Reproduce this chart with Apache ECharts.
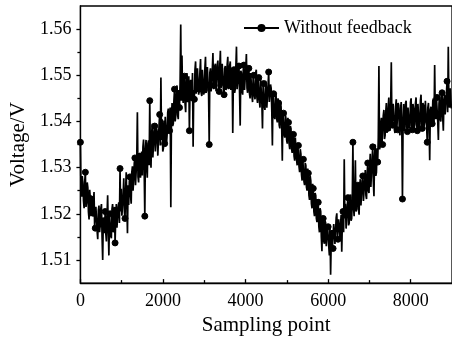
<!DOCTYPE html>
<html>
<head>
<meta charset="utf-8">
<script src="https://cdn.jsdelivr.net/npm/echarts@6/dist/echarts.min.js"></script>
<style>
html,body{margin:0;padding:0;background:#fff;}
#chart{width:452px;height:341px;}
</style>
</head>
<body>
<div id="chart"></div>
<script>
// sampling step between stored points
var sampleStep = 15;
var seriesName = 'Without feedback';
// voltage readings (V), one every 15 sampling points, from 0 to 8985
var voltage = [
1.5355,1.5248,1.5237,1.5282,1.5267,1.5228,1.5212,1.5270,1.5290,1.5215,1.5225,1.5268,1.5257,1.5204,1.5188,1.5252,1.5233,1.5195,1.5202,1.5238,
1.5194,1.5226,1.5247,1.5172,1.5169,1.5215,1.5212,1.5163,1.5145,1.5208,1.5218,1.5160,1.5178,1.5212,1.5221,1.5150,1.5100,1.5192,1.5187,1.5158,
1.5205,1.5158,1.5140,1.5196,1.5240,1.5165,1.5110,1.5198,1.5200,1.5152,1.5147,1.5210,1.5221,1.5160,1.5173,1.5215,1.5137,1.5190,1.5221,1.5170,
1.5167,1.5215,1.5225,1.5180,1.5298,1.5205,1.5254,1.5196,1.5192,1.5240,1.5277,1.5205,1.5190,1.5252,1.5290,1.5218,1.5158,1.5262,1.5219,1.5270,
1.5280,1.5240,1.5222,1.5290,1.5303,1.5250,1.5272,1.5310,1.5321,1.5262,1.5265,1.5318,1.5420,1.5280,1.5268,1.5330,1.5325,1.5278,1.5295,1.5335,
1.5283,1.5345,1.5361,1.5295,1.5195,1.5340,1.5360,1.5300,1.5278,1.5352,1.5359,1.5305,1.5445,1.5330,1.5300,1.5372,1.5395,1.5322,1.5318,1.5378,
1.5390,1.5335,1.5338,1.5385,1.5378,1.5326,1.5330,1.5392,1.5415,1.5348,1.5495,1.5360,1.5405,1.5335,1.5342,1.5402,1.5352,1.5410,1.5407,1.5350,
1.5372,1.5420,1.5428,1.5375,1.5380,1.5430,1.5214,1.5405,1.5440,1.5390,1.5395,1.5445,1.5470,1.5400,1.5412,1.5462,1.5478,1.5415,1.5405,1.5468,
1.5430,1.5485,1.5610,1.5445,1.5543,1.5455,1.5440,1.5492,1.5498,1.5438,1.5420,1.5488,1.5505,1.5442,1.5452,1.5498,1.5380,1.5465,1.5490,1.5445,
1.5455,1.5505,1.5345,1.5468,1.5448,1.5512,1.5530,1.5460,1.5462,1.5515,1.5518,1.5458,1.5470,1.5508,1.5535,1.5462,1.5455,1.5512,1.5510,1.5458,
1.5468,1.5515,1.5540,1.5462,1.5475,1.5518,1.5522,1.5458,1.5350,1.5505,1.5515,1.5465,1.5462,1.5512,1.5548,1.5470,1.5478,1.5520,1.5525,1.5466,
1.5470,1.5522,1.5532,1.5470,1.5465,1.5518,1.5553,1.5472,1.5480,1.5525,1.5528,1.5466,1.5458,1.5515,1.5520,1.5468,1.5475,1.5523,1.5540,1.5470,
1.5478,1.5520,1.5530,1.5468,1.5466,1.5515,1.5375,1.5490,1.5512,1.5462,1.5470,1.5518,1.5562,1.5470,1.5485,1.5525,1.5520,1.5462,1.5391,1.5510,
1.5505,1.5465,1.5458,1.5512,1.5522,1.5468,1.5470,1.5515,1.5546,1.5472,1.5462,1.5510,1.5515,1.5460,1.5450,1.5505,1.5508,1.5455,1.5442,1.5500,
1.5500,1.5455,1.5448,1.5505,1.5512,1.5452,1.5440,1.5498,1.5495,1.5445,1.5430,1.5492,1.5488,1.5440,1.5385,1.5478,1.5482,1.5432,1.5425,1.5488,
1.5480,1.5430,1.5432,1.5478,1.5507,1.5442,1.5440,1.5480,1.5472,1.5425,1.5348,1.5458,1.5460,1.5410,1.5405,1.5462,1.5455,1.5405,1.5398,1.5450,
1.5440,1.5392,1.5385,1.5440,1.5432,1.5390,1.5315,1.5420,1.5418,1.5372,1.5365,1.5415,1.5405,1.5360,1.5352,1.5408,1.5398,1.5352,1.5340,1.5390,
1.5385,1.5340,1.5332,1.5378,1.5372,1.5325,1.5315,1.5365,1.5362,1.5318,1.5305,1.5352,1.5348,1.5302,1.5290,1.5340,1.5330,1.5285,1.5272,1.5322,
1.5318,1.5270,1.5262,1.5310,1.5305,1.5258,1.5250,1.5298,1.5288,1.5240,1.5230,1.5282,1.5272,1.5222,1.5212,1.5265,1.5255,1.5205,1.5195,1.5245,
1.5240,1.5190,1.5182,1.5232,1.5225,1.5172,1.5160,1.5212,1.5205,1.5150,1.5119,1.5195,1.5190,1.5140,1.5135,1.5185,1.5180,1.5130,1.5128,1.5175,
1.5172,1.5130,1.5110,1.5175,1.5068,1.5142,1.5165,1.5128,1.5125,1.5178,1.5180,1.5135,1.5138,1.5192,1.5201,1.5148,1.5145,1.5188,1.5190,1.5150,
1.5150,1.5198,1.5118,1.5185,1.5205,1.5160,1.5318,1.5190,1.5222,1.5168,1.5172,1.5218,1.5235,1.5175,1.5180,1.5228,1.5242,1.5185,1.5190,1.5232,
1.5355,1.5212,1.5195,1.5245,1.5316,1.5205,1.5210,1.5255,1.5262,1.5210,1.5198,1.5262,1.5275,1.5218,1.5215,1.5270,1.5282,1.5228,1.5225,1.5272,
1.5295,1.5240,1.5232,1.5288,1.5310,1.5250,1.5245,1.5302,1.5330,1.5258,1.5262,1.5318,1.5345,1.5270,1.5238,1.5325,1.5350,1.5282,1.5290,1.5342,
1.5312,1.5365,1.5520,1.5340,1.5345,1.5395,1.5408,1.5352,1.5350,1.5412,1.5425,1.5362,1.5370,1.5420,1.5440,1.5375,1.5385,1.5430,1.5452,1.5390,
1.5380,1.5435,1.5528,1.5390,1.5392,1.5438,1.5440,1.5382,1.5375,1.5432,1.5448,1.5385,1.5382,1.5440,1.5435,1.5378,1.5370,1.5428,1.5442,1.5385,
1.5232,1.5395,1.5438,1.5380,1.5385,1.5440,1.5445,1.5388,1.5378,1.5430,1.5432,1.5385,1.5390,1.5442,1.5450,1.5390,1.5382,1.5438,1.5428,1.5385,
1.5395,1.5440,1.5452,1.5392,1.5380,1.5438,1.5440,1.5385,1.5392,1.5445,1.5458,1.5395,1.5385,1.5440,1.5435,1.5390,1.5398,1.5445,1.5448,1.5392,
1.5355,1.5430,1.5440,1.5392,1.5316,1.5425,1.5432,1.5390,1.5395,1.5445,1.5450,1.5398,1.5522,1.5420,1.5405,1.5448,1.5452,1.5400,1.5360,1.5438,
1.5455,1.5405,1.5400,1.5450,1.5462,1.5410,1.5380,1.5448,1.5458,1.5415,1.5412,1.5460,1.5487,1.5420,1.5562,1.5440,1.5430,1.5472,1.5470,1.5428
];
// axis ticks
var xTicks = [0, 2000, 4000, 6000, 8000];
var xMinorTicks = [1000, 3000, 5000, 7000];
var yTicks = [1.51, 1.52, 1.53, 1.54, 1.55, 1.56];
var yMinorTicks = [1.515, 1.525, 1.535, 1.545, 1.555];

var data = voltage.map(function (v, i) {
  return { value: [i * sampleStep, v], symbol: (i % 8 === 0) ? 'circle' : 'none' };
});

var font = 'Liberation Serif';
var labelRich = { t: { fontFamily: font, fontSize: 18, color: '#000' } };
var chart = echarts.init(document.getElementById('chart'), null, { renderer: 'canvas' });
chart.setOption({
  animation: false,
  backgroundColor: '#fff',
  textStyle: { fontFamily: font, color: '#000' },
  grid: { left: 78, top: 6, width: 376, height: 281, show: true, borderColor: '#000', borderWidth: 1.3, backgroundColor: 'transparent' },
  legend: {
    left: 238, top: 14,
    itemWidth: 35, itemHeight: 10, itemGap: 5,
    textStyle: { fontFamily: font, fontSize: 18, color: '#000' },
    data: [seriesName]
  },
  xAxis: [{
    type: 'value', min: 0, max: 9000, interval: 2000,
    name: 'Sampling point', nameLocation: 'middle', nameGap: 28,
    nameTextStyle: { fontFamily: font, fontSize: 21, color: '#000' },
    axisLine: { lineStyle: { color: '#000', width: 1.3 } },
    axisTick: { inside: true, length: 4, customValues: xTicks, lineStyle: { color: '#000', width: 1.3 } },
    axisLabel: { fontFamily: font, fontSize: 18, color: '#000', margin: 9, showMaxLabel: false, rich: labelRich,
      formatter: function (v) { return xTicks.indexOf(v) >= 0 ? '{t|' + String(v) + '}' : ''; } },
    splitLine: { show: false }
  }, {
    type: 'value', min: 0, max: 9000, position: 'bottom',
    axisLine: { show: false },
    axisTick: { inside: true, length: 3, customValues: xMinorTicks, lineStyle: { color: '#000', width: 1.3 } },
    axisLabel: { show: false },
    splitLine: { show: false }
  }],
  yAxis: [{
    type: 'value', min: 1.505, max: 1.565, interval: 0.005,
    name: 'Voltage/V', nameLocation: 'middle', nameGap: 51,
    nameTextStyle: { fontFamily: font, fontSize: 21, color: '#000' },
    axisLine: { show: true, lineStyle: { color: '#000', width: 1.3 } },
    axisTick: { show: true, inside: false, length: 4, customValues: yTicks, lineStyle: { color: '#000', width: 1.3 } },
    axisLabel: { fontFamily: font, fontSize: 18, color: '#000', margin: 9, rich: labelRich,
      formatter: function (v) {
        for (var k = 0; k < yTicks.length; k++) { if (Math.abs(yTicks[k] - v) < 1e-6) return '{t|' + yTicks[k].toFixed(2) + '}'; }
        return '';
      } },
    splitLine: { show: false }
  }, {
    type: 'value', min: 1.505, max: 1.565, position: 'left',
    axisLine: { show: false },
    axisTick: { show: true, inside: false, length: 3, customValues: yMinorTicks, lineStyle: { color: '#000', width: 1.3 } },
    axisLabel: { show: false },
    splitLine: { show: false }
  }],
  series: [{
    name: seriesName,
    type: 'line',
    data: data,
    symbol: 'circle',
    symbolSize: 6,
    showAllSymbol: true,
    lineStyle: { color: '#000', width: 1.7 },
    itemStyle: { color: '#000', borderColor: '#000' },
    clip: true
  }]
});
</script>
</body>
</html>
